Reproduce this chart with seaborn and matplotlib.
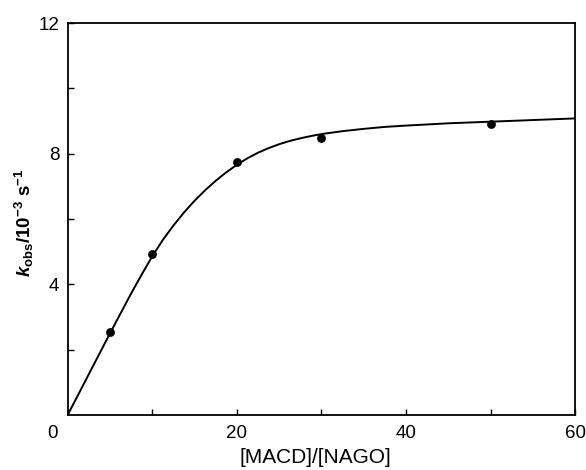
import numpy as np
import pandas as pd
import matplotlib as mpl
mpl.use("Agg")
import matplotlib.pyplot as plt
import matplotlib.transforms as mtransforms
import seaborn as sns

sns.set_style("ticks")
plt.rcParams["font.family"] = ["Liberation Sans", "DejaVu Sans"]
plt.rcParams["mathtext.fontset"] = "custom"
plt.rcParams["mathtext.rm"] = "Liberation Sans:bold"
plt.rcParams["mathtext.it"] = "Liberation Sans:italic:bold"

# measured points
ratio = [5, 10, 20, 30, 50]
kobs = [2.55, 4.93, 7.75, 8.47, 8.92]

# fitted curve
curve_x = [0, 2.5, 5, 7.5, 8.75, 10, 11.25, 12.5, 13.75, 15, 16.25, 17.5,
           18.75, 20, 21.25, 22.5, 23.75, 25, 26.25, 27.5, 28.75, 30,
           32.5, 35, 37.5, 40, 45, 50, 55, 60]
curve_y = [0, 1.25, 2.5, 3.72, 4.3, 4.86, 5.36, 5.8, 6.2, 6.56, 6.88, 7.17,
           7.43, 7.66, 7.86, 8.03, 8.17, 8.29, 8.39, 8.47, 8.54, 8.6,
           8.69, 8.76, 8.82, 8.86, 8.93, 8.98, 9.03, 9.08]

pts = pd.DataFrame({"ratio": ratio, "kobs": kobs})
fit = pd.DataFrame({"ratio": curve_x, "kobs": curve_y})

fig = plt.figure(figsize=(5.86, 4.70), dpi=100)
ax = fig.add_axes([0.1155, 0.117, 0.866, 0.834])

sns.lineplot(data=fit, x="ratio", y="kobs", ax=ax, color="black",
             linewidth=1.4, sort=True)
sns.scatterplot(data=pts, x="ratio", y="kobs", ax=ax, color="black",
                s=34, edgecolor="black", zorder=3)

ax.set_xlim(0, 60)
ax.set_ylim(0, 12)
ax.xaxis.set_major_locator(mpl.ticker.FixedLocator([0, 20, 40, 60]))
ax.xaxis.set_minor_locator(mpl.ticker.FixedLocator([10, 30, 50]))
ax.yaxis.set_major_locator(mpl.ticker.FixedLocator([4, 8, 12]))
ax.yaxis.set_minor_locator(mpl.ticker.FixedLocator([2, 6, 10]))
ax.tick_params(which="both", direction="in", length=4, width=1.0,
               labelsize=13.5, colors="black", labelcolor="black")
ax.tick_params(axis="x", pad=7)
ax.tick_params(axis="y", pad=6)
for sp in ax.spines.values():
    sp.set_linewidth(1.3)
    sp.set_color("black")

# the corner "0" sits a little left of the axis
lbl0 = ax.get_xticklabels()[0]
lbl0.set_transform(lbl0.get_transform() +
                   mtransforms.ScaledTranslation(-0.15, 0, fig.dpi_scale_trans))

ax.set_xlabel("[MACD]/[NAGO]", fontsize=15, color="black")
ax.xaxis.set_label_coords(0.489, -0.084)
ax.set_ylabel(r"$k_{\mathrm{obs}}$/10$^{-3}$ s$^{-1}$", fontsize=13.5,
              fontweight="bold", color="black")
ax.yaxis.set_label_coords(-0.062, 0.49)

fig.savefig("out.png", dpi=100)
